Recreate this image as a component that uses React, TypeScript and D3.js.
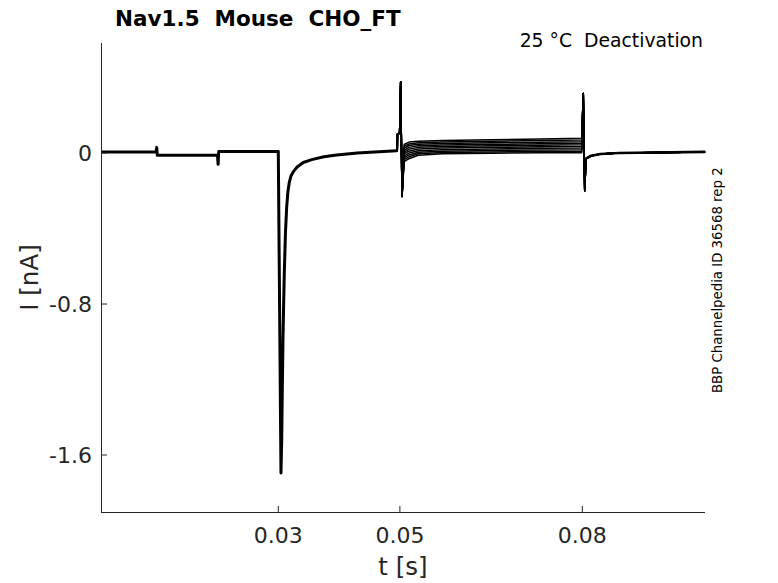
import React from 'react';
import * as d3 from 'd3';

// part shared by all sweeps: holding, small test steps, activation at 0.03 s
const preTimes = [
	0.00084, 0.0099, 0.01, 0.0101, 0.02, 0.0201, 0.0202, 0.03, 0.03044, 0.03056, 0.03066,
	0.03077, 0.03088, 0.03099, 0.03118, 0.03138, 0.03158, 0.03181, 0.0321, 0.03245, 0.03275,
	0.0331, 0.0341, 0.0355, 0.0375, 0.0396, 0.043, 0.0465, 0.0495,
];
const preCurrents = [
	0.005, 0.005, 0.03, -0.012, -0.012, -0.06, 0.008, 0.008, -1.695, -1.52, -1.25,
	-0.99, -0.8, -0.635, -0.42, -0.286, -0.205, -0.155, -0.12, -0.1, -0.088,
	-0.074, -0.05, -0.035, -0.02, -0.01, 0.0, 0.007, 0.012,
];

// step to the deactivation voltage at 0.05 s (capacitive transient)
const stepTimes = [0.0495, 0.04957, 0.0496, 0.04995, 0.05013, 0.05035];
const stepCurrents = [0.012, 0.012, 0.1, 0.105, 0.377, -0.23];

// tail currents, one row per sweep
const tailTimes = [0.0507, 0.0515, 0.053, 0.057, 0.065, 0.073, 0.0799];
const tailCurrents = [
	[0.045, 0.058, 0.062, 0.066, 0.07, 0.074, 0.078],
	[0.035, 0.048, 0.054, 0.058, 0.062, 0.066, 0.069],
	[0.025, 0.04, 0.046, 0.05, 0.054, 0.057, 0.06],
	[0.015, 0.03, 0.038, 0.042, 0.046, 0.049, 0.052],
	[0.005, 0.02, 0.03, 0.034, 0.038, 0.041, 0.044],
	[-0.005, 0.01, 0.021, 0.026, 0.03, 0.033, 0.035],
	[-0.015, 0.0, 0.012, 0.018, 0.022, 0.025, 0.027],
	[-0.025, -0.01, 0.004, 0.01, 0.014, 0.016, 0.018],
	[-0.035, -0.02, -0.004, 0.003, 0.006, 0.008, 0.01],
	[-0.045, -0.03, -0.012, -0.004, -0.001, 0.001, 0.002],
];

// back to holding at 0.08 s
const endTimes = [0.08016, 0.0804, 0.0806, 0.0815, 0.083, 0.086, 0.1002];
const endCurrents = [0.316, -0.2, -0.03, -0.014, -0.005, 0.0, 0.006];

const xTicks = [0.03, 0.05, 0.08];
const xTickLabels = ['0.03', '0.05', '0.08'];
const yTicks = [0, -0.8, -1.6];
const yTickLabels = ['0', '-0.8', '-1.6'];

const W = 778;
const H = 583;
const axisColor = '#262626';
const font = '"DejaVu Sans", sans-serif';

type Pt = [number, number];
const zip = (t: number[], v: number[]): Pt[] => t.map((x, i) => [x, v[i]]);

export default function App(): JSX.Element {
	const x = d3.scaleLinear().domain([0.00084, 0.10018]).range([101, 705]);
	const y = d3.scaleLinear().domain([-1.902, 0.583]).range([512, 43]);
	const line = d3.line<Pt>().x((d) => x(d[0])).y((d) => y(d[1]));

	const pre = zip(preTimes, preCurrents);
	const post = zip(endTimes, endCurrents).slice(2);
	const sweeps = tailCurrents.map((row) => [
		...zip(stepTimes, stepCurrents),
		...zip(tailTimes, row),
		...zip(endTimes, endCurrents),
	]);

	const [x0, x1] = x.range();
	const [y0, y1] = y.range();

	return (
		<svg width={W} height={H} style={{ position: 'absolute', left: 0, top: 0, background: '#fff' }} fontFamily={font}>
			<rect width={W} height={H} fill="#fff" />
			<path d={line(pre) || ''} fill="none" stroke="#000" strokeWidth={3} strokeLinejoin="round" />
			{sweeps.map((s, i) => (
				<path key={i} d={line(s) || ''} fill="none" stroke="#000" strokeWidth={1.5} strokeLinejoin="round" />
			))}
			<path d={line(post) || ''} fill="none" stroke="#000" strokeWidth={2.6} strokeLinejoin="round" />

			{/* axes */}
			<line x1={x0} x2={x1} y1={y0 + 0.5} y2={y0 + 0.5} stroke={axisColor} strokeWidth={1} />
			<line x1={x0 + 0.5} x2={x0 + 0.5} y1={y0 + 0.5} y2={y1} stroke={axisColor} strokeWidth={1} />
			{xTicks.map((t, i) => (
				<g key={t}>
					<line x1={x(t)} x2={x(t)} y1={y0} y2={y0 - 6} stroke={axisColor} strokeWidth={1} />
					<text x={x(t)} y={543} textAnchor="middle" fontSize={22} fill={axisColor}>{xTickLabels[i]}</text>
				</g>
			))}
			{yTicks.map((v, i) => (
				<g key={v}>
					<line x1={x0} x2={x0 + 6} y1={y(v)} y2={y(v)} stroke={axisColor} strokeWidth={1} />
					<text x={92} y={y(v) + 8} textAnchor="end" fontSize={22} fill={axisColor}>{yTickLabels[i]}</text>
				</g>
			))}
			<text x={(x0 + x1) / 2} y={575} textAnchor="middle" fontSize={24.5} fill={axisColor}>t [s]</text>
			<text transform={`translate(38,${(y0 + y1) / 2}) rotate(-90)`} textAnchor="middle" fontSize={24.5} fill={axisColor}>I [nA]</text>

			{/* titles */}
			<text x={115} y={26} fontSize={21.5} fontWeight="bold" fill="#000" style={{ whiteSpace: 'pre' }}>{'Nav1.5  Mouse  CHO_FT'}</text>
			<text x={703} y={47} textAnchor="end" fontSize={18.8} fill="#000" style={{ whiteSpace: 'pre' }}>{'25 °C  Deactivation'}</text>
			<text transform="translate(722,393) rotate(-90)" fontSize={13.3} fill="#000">BBP Channelpedia ID 36568 rep 2</text>
		</svg>
	);
}
